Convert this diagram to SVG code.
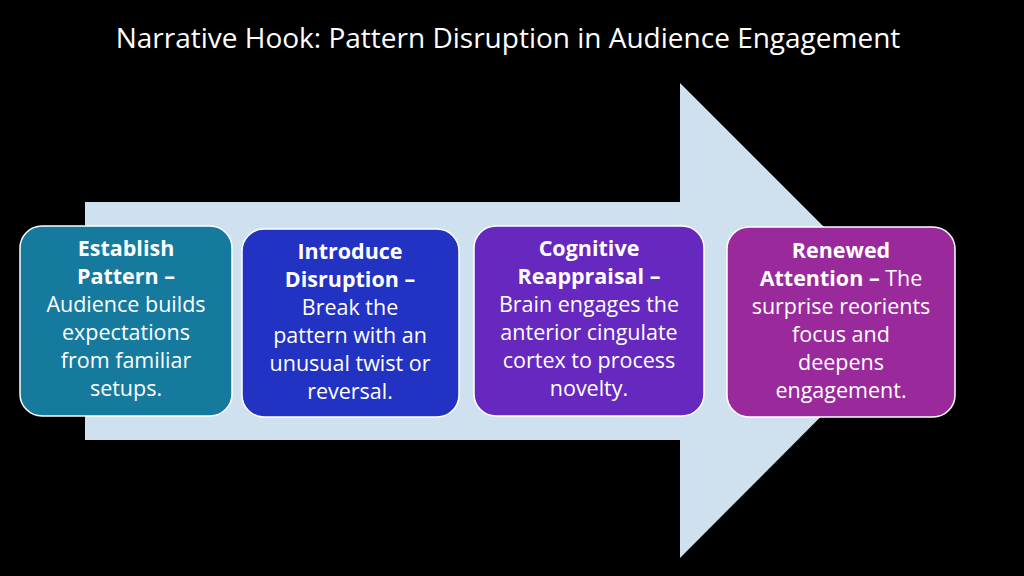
<svg xmlns="http://www.w3.org/2000/svg" width="1024" height="576" viewBox="0 0 1024 576">
<style>
.t{font-family:"Open Sans","Liberation Sans",Arial,sans-serif;font-size:21.5px;fill:#fff;text-anchor:middle}
.b{font-weight:bold}
.box{stroke:#fff;stroke-width:1.5}
</style>
<rect width="1024" height="576" fill="#000"/>
<text x="508" y="48" class="t" style="font-size:28px">Narrative Hook: Pattern Disruption in Audience Engagement</text>
<g id="arrow"><polygon points="85,202 680,202 680,83 917,320 680,558 680,440 85,440" fill="#CFE0EE"/></g>
<g id="connectors"></g>
<g id="n1"><rect class="box" x="20" y="226" width="212" height="190" rx="22" fill="#167A9E"/>
<text class="t" x="126" y="256"><tspan class="b">Establish</tspan><tspan x="126" dy="28" class="b">Pattern –</tspan><tspan x="126" dy="28">Audience builds</tspan><tspan x="126" dy="28">expectations</tspan><tspan x="126" dy="28">from familiar</tspan><tspan x="126" dy="28">setups.</tspan></text></g>
<g id="n2"><rect class="box" x="242" y="229" width="217" height="188" rx="22" fill="#2232C2"/>
<text class="t" x="350" y="259"><tspan class="b">Introduce</tspan><tspan x="350" dy="28" class="b">Disruption –</tspan><tspan x="350" dy="28">Break the</tspan><tspan x="350" dy="28">pattern with an</tspan><tspan x="350" dy="28">unusual twist or</tspan><tspan x="350" dy="28">reversal.</tspan></text></g>
<g id="n3"><rect class="box" x="474" y="226" width="230" height="190" rx="22" fill="#6628BE"/>
<text class="t" x="589" y="256"><tspan class="b">Cognitive</tspan><tspan x="589" dy="28" class="b">Reappraisal –</tspan><tspan x="589" dy="28">Brain engages the</tspan><tspan x="589" dy="28">anterior cingulate</tspan><tspan x="589" dy="28">cortex to process</tspan><tspan x="589" dy="28">novelty.</tspan></text></g>
<g id="n4"><rect class="box" x="727" y="227" width="228" height="190" rx="22" fill="#9A2A9C"/>
<text class="t" x="841" y="258"><tspan class="b">Renewed</tspan><tspan x="841" dy="28"><tspan class="b">Attention –</tspan> The</tspan><tspan x="841" dy="28">surprise reorients</tspan><tspan x="841" dy="28">focus and</tspan><tspan x="841" dy="28">deepens</tspan><tspan x="841" dy="28">engagement.</tspan></text></g>
</svg>
